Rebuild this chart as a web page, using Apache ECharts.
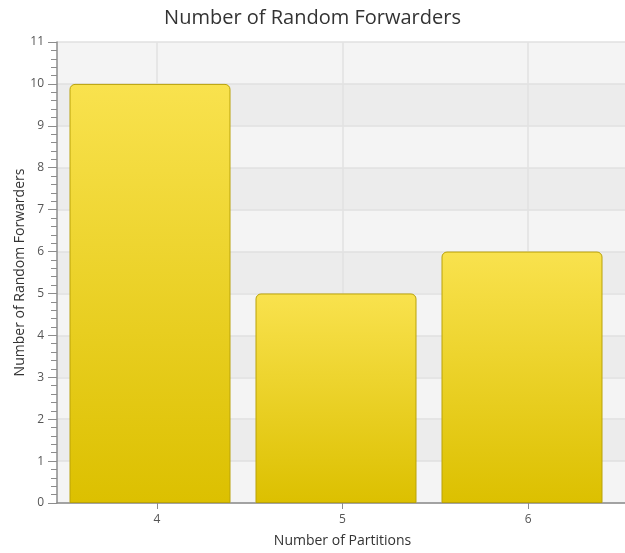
<!DOCTYPE html>
<html>
<head>
<meta charset="utf-8">
<script src="https://cdn.jsdelivr.net/npm/echarts@6/dist/echarts.min.js"></script>
<style>
  html, body { margin: 0; padding: 0; background: #ffffff; }
  #chart { width: 625px; height: 553px; }
</style>
</head>
<body>
<div id="chart"></div>
<script>
// Chart data
const partitions = ['4', '5', '6'];
const randomForwarders = [10, 5, 6];
const yMin = 0;
const yMax = 11;
const yStep = 1;

const FONT = '"Open Sans", "Noto Sans", sans-serif';
const TOP = 42;
const BOTTOM = 50;

const chart = echarts.init(document.getElementById('chart'), null, { renderer: 'canvas' });

chart.setOption({
  backgroundColor: '#ffffff',
  animation: false,
  title: {
    text: 'Number of Random Forwarders',
    left: 'center',
    top: 3,
    textStyle: { fontFamily: FONT, fontSize: 20, fontWeight: 'normal', color: '#333333' }
  },
  grid: [
    // plot background + value axis
    { left: 57, right: 0, top: TOP, bottom: BOTTOM, containLabel: false },
    // bars
    { left: 57, right: 10, top: TOP, bottom: BOTTOM, containLabel: false },
    // category ticks, labels and vertical grid lines
    { left: 64, right: 4, top: TOP, bottom: BOTTOM, containLabel: false }
  ],
  xAxis: [
    {
      gridIndex: 0, type: 'category', data: partitions,
      axisLine: { show: true, lineStyle: { color: '#8c8c8c', width: 1.5 } },
      axisTick: { show: false }, axisLabel: { show: false }, splitLine: { show: false }
    },
    {
      gridIndex: 1, type: 'category', data: partitions, show: false
    },
    {
      gridIndex: 2, type: 'category', data: partitions,
      name: 'Number of Partitions', nameLocation: 'middle', nameGap: 34,
      nameMoveOverlap: false,
      nameTextStyle: { fontFamily: FONT, fontSize: 14, color: '#333333' },
      axisLine: { show: false },
      axisTick: { show: true, alignWithLabel: true, length: 9, lineStyle: { color: '#8c8c8c' } },
      axisLabel: { fontFamily: FONT, fontSize: 12, color: '#555555', margin: 14 },
      splitLine: { show: true, alignWithLabel: true, lineStyle: { color: '#e2e2e2', width: 1.5 } }
    }
  ],
  yAxis: [
    {
      gridIndex: 0, type: 'value', min: yMin, max: yMax, interval: yStep,
      name: 'Number of Random Forwarders', nameLocation: 'middle', nameGap: 30,
      nameMoveOverlap: false,
      nameTextStyle: { fontFamily: FONT, fontSize: 14, color: '#333333' },
      axisLine: { show: true, lineStyle: { color: '#8c8c8c', width: 1.5 } },
      axisTick: { show: true, length: 9, lineStyle: { color: '#8c8c8c' } },
      minorTick: { show: true, splitNumber: 5, length: 6, lineStyle: { color: '#8c8c8c' } },
      axisLabel: { fontFamily: FONT, fontSize: 12, color: '#555555', margin: 13 },
      splitLine: { show: true, lineStyle: { color: '#e0e0e0', width: 1.5 } },
      splitArea: { show: true, areaStyle: { color: ['#f4f4f4', '#ececec'] } }
    },
    { gridIndex: 1, type: 'value', min: yMin, max: yMax, interval: yStep, show: false },
    { gridIndex: 2, type: 'value', min: yMin, max: yMax, interval: yStep, show: false }
  ],
  series: [
    {
      type: 'bar',
      xAxisIndex: 1,
      yAxisIndex: 1,
      data: randomForwarders,
      barWidth: 161,
      itemStyle: {
        color: new echarts.graphic.LinearGradient(0, 0, 0, 1, [
          { offset: 0, color: '#f9e24e' },
          { offset: 1, color: '#dcc000' }
        ]),
        borderColor: '#b9a20a',
        borderWidth: 1,
        borderRadius: [5, 5, 0, 0]
      },
      z: 3
    }
  ]
});
</script>
</body>
</html>
